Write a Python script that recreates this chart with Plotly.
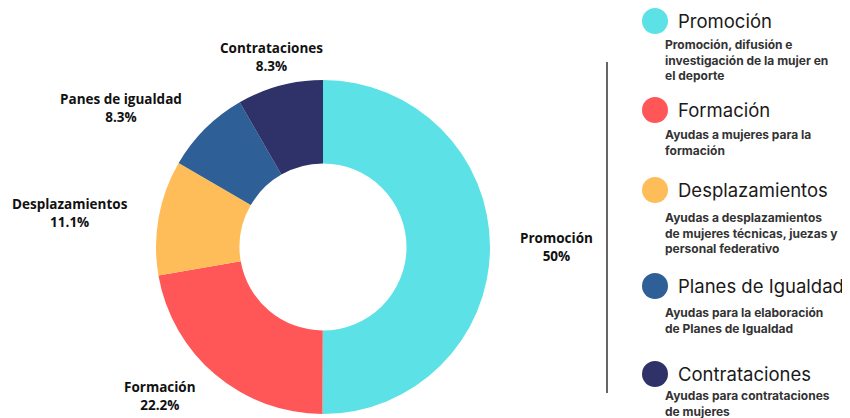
import plotly.graph_objects as go

# Data
categories = ["Promoción", "Formación", "Desplazamientos", "Panes de igualdad", "Contrataciones"]
shares = [50, 22.2, 11.1, 8.3, 8.3]
share_labels = ["50%", "22.2%", "11.1%", "8.3%", "8.3%"]
colors = ["#5CE1E6", "#FF5757", "#FFBD59", "#2E5F97", "#2F3269"]

legend_titles = ["Promoción", "Formación", "Desplazamientos", "Planes de Igualdad", "Contrataciones"]
legend_texts = [
    "Promoción, difusión e<br>investigación de la mujer en<br>el deporte",
    "Ayudas a mujeres para la<br>formación",
    "Ayudas a desplazamientos<br>de mujeres técnicas, juezas y<br>personal federativo",
    "Ayudas para la elaboración<br>de Planes de Igualdad",
    "Ayudas para contrataciones<br>de mujeres",
]

# Layout (page pixels; the page body has an 8px margin)
OFF = 8
W, H = 850 - OFF, 418 - OFF
LABEL_FONT = "Open Sans, Noto Sans, sans-serif"
LEGEND_FONT = "Inter, Noto Sans, sans-serif"


def px(x):
    return (x - OFF) / W


def py(y):
    return 1 - (y - OFF) / H


# slice label centres (page px)
label_pos = [(556, 247), (160, 396), (70, 213), (121, 108), (271, 57)]

fig = go.Figure()
fig.add_trace(go.Pie(
    labels=categories,
    values=shares,
    textinfo="none",
    marker=dict(colors=colors, line=dict(width=0)),
    hole=0.5,
    sort=False,
    direction="clockwise",
    rotation=0,
    showlegend=False,
    hoverinfo="label+percent",
    domain=dict(x=[px(155), px(491)], y=[py(414), py(80)]),
))

for (lx, ly), c, p in zip(label_pos, categories, share_labels):
    fig.add_annotation(x=px(lx), y=py(ly), xref="paper", yref="paper",
                       text=f"<b>{c}<br>{p}</b>", showarrow=False,
                       xanchor="center", yanchor="middle", align="center",
                       font=dict(family=LABEL_FONT, size=13.5, color="#111111"))

# custom legend on the right
title_y = [21, 110, 190, 286, 374]
desc_y = [43, 133, 216, 311, 394]
for i, (t, d) in enumerate(zip(legend_titles, legend_texts)):
    cy = title_y[i]
    fig.add_shape(type="circle", xref="paper", yref="paper",
                  x0=px(642), x1=px(668), y0=py(cy + 13), y1=py(cy - 13),
                  fillcolor=colors[i], line=dict(width=0))
    fig.add_annotation(x=px(676), y=py(cy), xref="paper", yref="paper",
                       text=t, showarrow=False, xanchor="left", yanchor="middle",
                       font=dict(family=LEGEND_FONT, size=18.5, color="#1a1a1a"))
    fig.add_annotation(x=px(663), y=py(desc_y[i] - 8), xref="paper", yref="paper",
                       text=f"<b>{d}</b>", showarrow=False, xanchor="left", yanchor="top",
                       align="left",
                       font=dict(family=LEGEND_FONT, size=12, color="#333333"))

# divider line
fig.add_shape(type="line", xref="paper", yref="paper",
              x0=px(607), x1=px(607), y0=py(62), y1=py(393),
              line=dict(color="#333333", width=1.5))

fig.update_layout(
    width=W, height=H,
    margin=dict(l=0, r=0, t=0, b=0),
    paper_bgcolor="white",
    plot_bgcolor="white",
)

fig.write_html("out.html")
